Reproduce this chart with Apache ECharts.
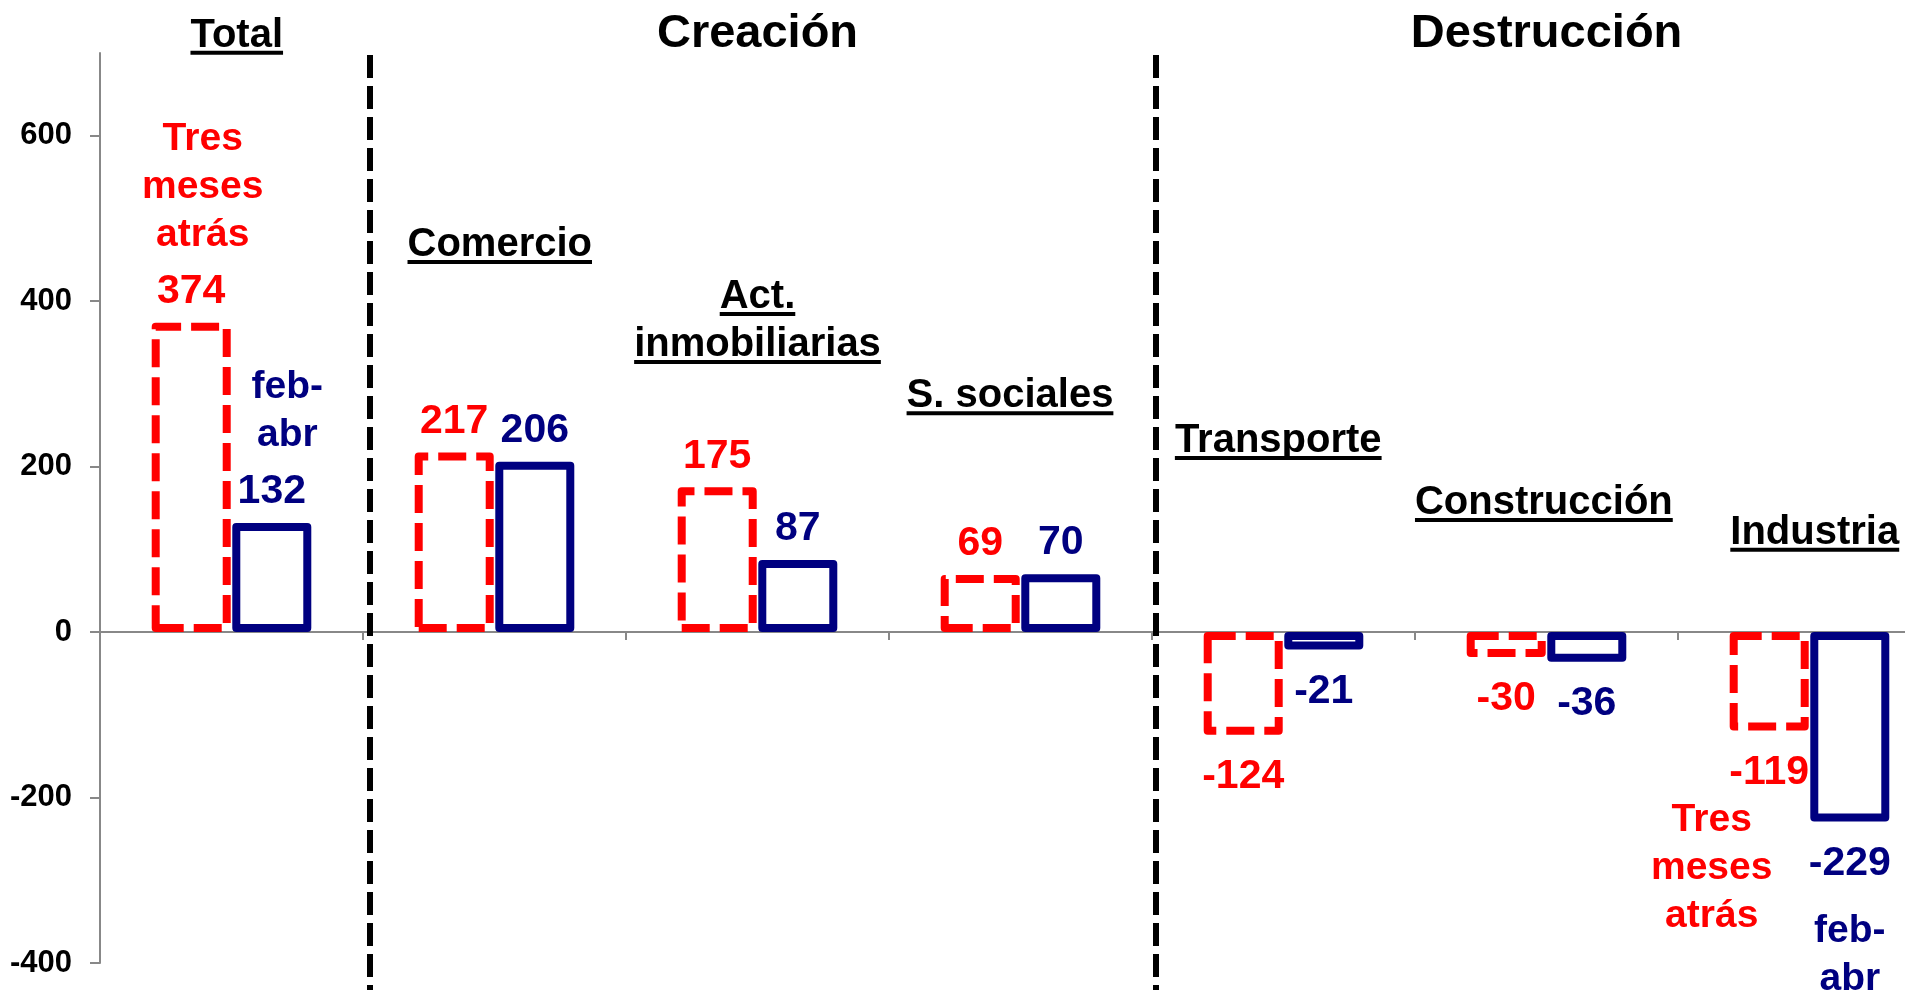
<!DOCTYPE html>
<html>
<head>
<meta charset="utf-8">
<script src="https://cdn.jsdelivr.net/npm/echarts@6/dist/echarts.min.js"></script>
<style>
  html, body { margin: 0; padding: 0; background: #fff; }
  #chart { width: 1905px; height: 990px; }
</style>
</head>
<body>
<div id="chart"></div>
<script>
// sectores (el salto de linea parte el titulo en dos renglones)
var categories = ['Total', 'Comercio', 'Act.\ninmobiliarias', 'S. sociales', 'Transporte', 'Construcción', 'Industria'];
// variacion del empleo, miles
var tresMeses = [374, 217, 175, 69, -124, -30, -119];
var febAbr = [132, 206, 87, 70, -21, -36, -229];
var yTicks = [-400, -200, 0, 200, 400, 600];
var redNote = ['Tres', 'meses', 'atrás'];
var blueNote = ['feb-', 'abr'];
var groups = [
  { name: 'Creación', from: 1, to: 3 },
  { name: 'Destrucción', from: 4, to: 6 }
];

// donde van los titulos de sector (eje x auxiliar 0..7, eje y en miles)
var titleX = [0.52, 1.52, 2.5, 3.46, 4.48, 5.49, 6.52];
var titleLevels = [[698], [445], [382, 324], [262], [208], [133], [97]];
var dividerAt = [1.027, 4.015];

var FONT = 'Liberation Sans, Arial, sans-serif';
var RED = '#ff0000';
var NAVY = '#000080';

var chart = echarts.init(document.getElementById('chart'));

function barData(vals) {
  return vals.map(function (v) {
    return {
      value: v,
      label: { position: v < 0 ? 'bottom' : 'top', distance: v < 0 ? 18 : 7 }
    };
  });
}

function txt(size, color, extra) {
  var s = { fontFamily: FONT, fontWeight: 'bold', fontSize: size, color: color, lineHeight: 48 };
  for (var k in extra) s[k] = extra[k];
  return s;
}

var last = categories.length - 1;

var titleMarks = [];
categories.forEach(function (c, i) {
  c.split('\n').forEach(function (line, k) {
    titleMarks.push({ name: line, coord: [titleX[i], titleLevels[i][k]] });
  });
});

var groupLabel = {};
groups.forEach(function (g) {
  groupLabel[Math.round((g.from + g.to) / 2)] = g.name;
});

chart.setOption({
  animation: false,
  backgroundColor: '#fff',
  grid: [
    { left: 100, right: -36, top: 53, bottom: 27, containLabel: false, outerBoundsMode: 'none' },
    // solo para las lineas divisorias, que bajan hasta el borde
    { left: 100, right: -36, top: 55, bottom: 0, containLabel: false, outerBoundsMode: 'none' }
  ],
  xAxis: [
    {
      type: 'category',
      data: categories,
      axisLine: { onZero: true, lineStyle: { color: '#888', width: 2 } },
      axisTick: { show: true, interval: 0, length: 8, lineStyle: { color: '#888', width: 2 } },
      axisLabel: { show: false },
      splitLine: { show: false }
    },
    {
      type: 'value',
      min: 0,
      max: categories.length,
      show: false
    },
    {
      type: 'category',
      data: categories,
      position: 'top',
      axisLine: { show: false, onZero: false },
      axisTick: { show: false },
      axisLabel: {
        show: true,
        interval: 0,
        margin: -5,
        fontFamily: FONT,
        fontWeight: 'bold',
        fontSize: 47,
        lineHeight: 48,
        color: '#000',
        formatter: function (v, i) { return groupLabel[i] || ''; }
      }
    },
    {
      type: 'value',
      gridIndex: 1,
      min: 0,
      max: categories.length,
      show: false
    }
  ],
  yAxis: [
    {
      type: 'value',
      min: -400,
      max: 700,
      interval: 200,
      axisLine: { show: true, onZero: false, lineStyle: { color: '#888', width: 2 } },
      axisTick: { show: true, customValues: yTicks, length: 10, lineStyle: { color: '#888', width: 2 } },
      axisLabel: {
        customValues: yTicks,
        margin: 28,
        fontFamily: FONT,
        fontWeight: 'bold',
        fontSize: 31,
        color: '#000'
      },
      splitLine: { show: false }
    },
    {
      type: 'value',
      gridIndex: 1,
      min: 0,
      max: 1,
      show: false
    }
  ],
  series: [
    {
      name: redNote.join(' '),
      type: 'bar',
      barWidth: 79,
      barGap: '2%',
      data: barData(tresMeses),
      itemStyle: {
        color: 'rgba(0,0,0,0)',
        borderColor: RED,
        borderWidth: 8,
        borderType: [28, 10],
        borderJoin: 'round'
      },
      label: {
        show: true,
        align: 'center',
        formatter: function (p) {
          var v = '{v|' + p.value + '}';
          if (p.dataIndex === 0) {
            return redNote.map(function (w) { return '{n|' + w + '}'; }).join('\n') + '\n{s| }\n' + v;
          }
          if (p.dataIndex === last) {
            return v + '\n' + redNote.map(function (w) { return '{m|' + w + '}'; }).join('\n');
          }
          return v;
        },
        rich: {
          v: txt(41, RED),
          n: txt(39, RED, { padding: [0, 0, 0, 23] }),
          m: txt(39, RED, { padding: [0, 115, 0, 0] }),
          s: { fontSize: 1, lineHeight: 8 }
        }
      }
    },
    {
      name: blueNote.join(''),
      type: 'bar',
      barWidth: 79,
      barGap: '2%',
      data: barData(febAbr),
      itemStyle: {
        color: 'rgba(0,0,0,0)',
        borderColor: NAVY,
        borderWidth: 8,
        borderJoin: 'round'
      },
      label: {
        show: true,
        align: 'center',
        formatter: function (p) {
          var v = '{v|' + p.value + '}';
          if (p.dataIndex === 0) {
            return blueNote.map(function (w) { return '{a|' + w + '}'; }).join('\n') + '\n{s| }\n' + v;
          }
          if (p.dataIndex === last) {
            return v + '\n{s2| }\n' + blueNote.map(function (w) { return '{b|' + w + '}'; }).join('\n');
          }
          return v;
        },
        rich: {
          v: txt(41, NAVY),
          a: txt(39, NAVY, { padding: [0, 0, 0, 31] }),
          b: txt(39, NAVY),
          s: { fontSize: 1, lineHeight: 9 },
          s2: { fontSize: 1, lineHeight: 20 }
        }
      }
    },
    {
      // titulos subrayados de cada sector
      type: 'line',
      xAxisIndex: 1,
      yAxisIndex: 0,
      data: [],
      silent: true,
      markPoint: {
        symbol: 'circle',
        symbolSize: 0,
        silent: true,
        itemStyle: { color: 'rgba(0,0,0,0)' },
        label: {
          show: true,
          position: 'top',
          distance: 0,
          formatter: function (p) { return '{t|' + p.name + '}\n{u| }'; },
          rich: {
            t: { fontFamily: FONT, fontWeight: 'bold', fontSize: 40, color: '#000', lineHeight: 30 },
            u: { align: 'left', width: '100%', height: 4, lineHeight: 4, fontSize: 1, backgroundColor: '#000' }
          }
        },
        data: titleMarks
      }
    },
    {
      // divisiones Total | Creacion | Destruccion
      type: 'line',
      xAxisIndex: 3,
      yAxisIndex: 1,
      data: [],
      silent: true,
      markLine: {
        symbol: ['none', 'none'],
        silent: true,
        label: { show: false },
        lineStyle: { color: '#000', width: 6, type: [23, 8] },
        data: dividerAt.map(function (x) {
          return [{ coord: [x, 1] }, { coord: [x, 0] }];
        })
      }
    }
  ]
});
</script>
</body>
</html>
